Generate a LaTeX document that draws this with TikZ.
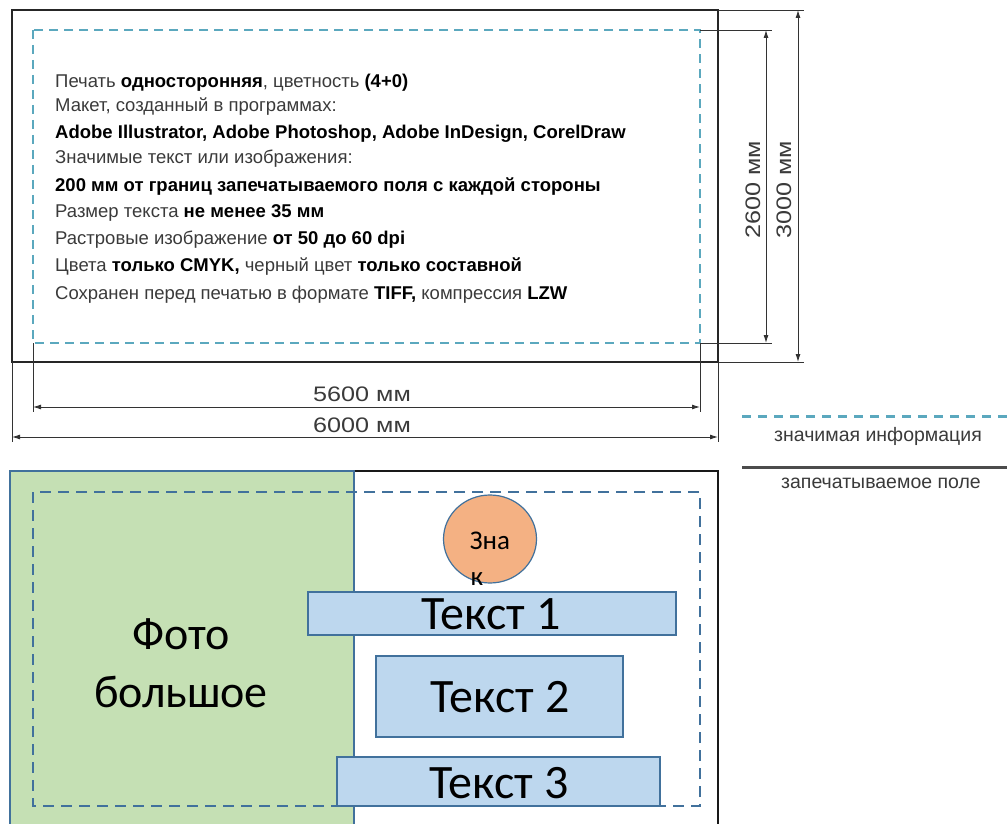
\documentclass[tikz,border=0pt]{standalone}
\usepackage{fontspec}
\setmainfont{Liberation Sans}
\newfontfamily\infof{Liberation Sans}
\newfontfamily\widef[FakeStretch=1.2]{Liberation Sans}
\newfontfamily\calib{Carlito}
\usetikzlibrary{arrows.meta,shapes.geometric}
\definecolor{cyandash}{HTML}{5BA8BE}
\definecolor{steel}{HTML}{41719C}
\definecolor{greenfill}{HTML}{C5E0B4}
\definecolor{orangefill}{HTML}{F4B183}
\definecolor{bluefill}{HTML}{BDD7EE}
\definecolor{txtgray}{HTML}{3A3A3A}
\tikzset{
  dimline/.style={draw=black!80, line width=0.9pt, {Latex[length=8pt,width=5pt]}-{Latex[length=8pt,width=5pt]}},
  extline/.style={draw=black!80, line width=0.9pt},
  infotext/.style={anchor=west, inner sep=0pt, font=\infof\fontsize{18.5}{21}\selectfont, text=txtgray},
  dimlabel/.style={inner sep=0pt, font=\widef\fontsize{21}{24}\selectfont, text=txtgray},
  legtext/.style={inner sep=0pt, font=\infof\fontsize{19.5}{22}\selectfont, text=txtgray},
  bluebox/.style={draw=steel, line width=1.2pt, fill=bluefill, inner sep=0pt},
  bigtext/.style={inner sep=0pt, font=\calib\fontsize{48}{54}\selectfont}
}
\newcommand{\bb}[1]{\textbf{\color{black}#1}}
\begin{document}
\begin{tikzpicture}[x=1pt,y=-1pt]
\useasboundingbox (0,0) rectangle (1007,824);
% ---------- top layout ----------
\coordinate (oTL) at (12,10);
\coordinate (oBR) at (718,362);
\coordinate (dTL) at (33,30);
\coordinate (dBR) at (700,343);
\draw[draw=black!85, line width=2pt] (oTL) rectangle (oBR);
\draw[draw=cyandash, line width=1.6pt, dash pattern=on 9pt off 6pt] (dTL) rectangle (dBR);
% extension lines
\coordinate (e1a) at (700,30);   \coordinate (e1b) at (772,30);
\coordinate (e2a) at (700,343);  \coordinate (e2b) at (772,343);
\coordinate (e3a) at (718,10);   \coordinate (e3b) at (804,10);
\coordinate (e4a) at (718,362);  \coordinate (e4b) at (804,362);
\draw[extline] (e1a) -- (e1b);
\draw[extline] (e2a) -- (e2b);
\draw[extline] (e3a) -- (e3b);
\draw[extline] (e4a) -- (e4b);
\coordinate (h1a) at (33,343);  \coordinate (h1b) at (33,412);
\coordinate (h2a) at (700,343); \coordinate (h2b) at (700,412);
\coordinate (h3a) at (12,362);  \coordinate (h3b) at (12,442);
\coordinate (h4a) at (718,362); \coordinate (h4b) at (718,442);
\draw[extline] (h1a) -- (h1b);
\draw[extline] (h2a) -- (h2b);
\draw[extline] (h3a) -- (h3b);
\draw[extline] (h4a) -- (h4b);
% dimension arrows
\coordinate (v1a) at (766,30);  \coordinate (v1b) at (766,343);
\coordinate (v2a) at (798,10);  \coordinate (v2b) at (798,362);
\draw[dimline] (v1a) -- (v1b);
\draw[dimline] (v2a) -- (v2b);
\coordinate (w1a) at (33,407);  \coordinate (w1b) at (700,407);
\coordinate (w2a) at (12,437);  \coordinate (w2b) at (718,437);
\draw[dimline] (w1a) -- (w1b);
\draw[dimline] (w2a) -- (w2b);
\node[dimlabel, rotate=90] (l2600) at (753,190) {2600 мм};
\node[dimlabel, rotate=90] (l3000) at (784,190) {3000 мм};
\node[dimlabel] (l5600) at (362,394) {5600 мм};
\node[dimlabel] (l6000) at (362,425) {6000 мм};
% info text
\node[infotext] (t1) at (55,83)  {Печать \bb{односторонняя}, цветность \bb{(4+0)}};
\node[infotext] (t2) at (55,107) {Макет, созданный в программах:};
\node[infotext] (t3) at (55,134) {\bb{Adobe Illustrator, Adobe Photoshop, Adobe InDesign, CorelDraw}};
\node[infotext] (t4) at (55,159) {Значимые текст или изображения:};
\node[infotext] (t5) at (55,187) {\bb{200 мм от границ запечатываемого поля с каждой стороны}};
\node[infotext] (t6) at (55,213) {Размер текста \bb{не менее 35 мм}};
\node[infotext] (t7) at (55,240) {Растровые изображение \bb{от 50 до 60 dpi}};
\node[infotext] (t8) at (55,267) {Цвета \bb{только CMYK,} черный цвет \bb{только составной}};
\node[infotext] (t9) at (55,295) {Сохранен перед печатью в формате \bb{TIFF,} компрессия \bb{LZW}};
% legend
\coordinate (lg1a) at (742,416.5); \coordinate (lg1b) at (1007,416.5);
\draw[draw=cyandash, line width=2.2pt, dash pattern=on 9pt off 7pt] (lg1a) -- (lg1b);
\node[legtext] (lgt1) at (878,436) {значимая информация};
\coordinate (lg2a) at (742,467.5); \coordinate (lg2b) at (1007,467.5);
\draw[draw=black!70, line width=2.8pt] (lg2a) -- (lg2b);
\node[legtext] (lgt2) at (881,483) {запечатываемое поле};
% ---------- bottom layout ----------
\draw[draw=black!90, line width=1.6pt] (10,471) rectangle (718,830);
\fill[greenfill] (10,471) rectangle (354,830);
\draw[draw=steel, line width=1.2pt] (10,830) -- (10,471) -- (354,471) -- (354,830);
\draw[draw=steel, line width=1.5pt, dash pattern=on 11pt off 7pt] (33,492) rectangle (700,806);
\node[bigtext, align=center, font=\calib\fontsize{46}{58}\selectfont] (foto) at (181,663) {Фото\\большое};
\node[draw=steel, line width=1.2pt, fill=orangefill, ellipse, minimum width=93pt, minimum height=88pt, inner sep=0pt] (znak) at (490,539) {};
\node[inner sep=0pt, font=\calib\fontsize{27}{32}\selectfont] (znak1) at (490,541) {Зна};
\node[inner sep=0pt, font=\calib\fontsize{27}{32}\selectfont] (znak2) at (477,579) {к};
\node[bluebox, minimum width=368pt, minimum height=43pt] (b1) at (492,613.5) {};
\node[bigtext] (b1t) at (491,614) {Текст 1};
\node[bluebox, minimum width=247pt, minimum height=81pt] (b2) at (499.5,696.5) {};
\node[bigtext] (b2t) at (500,697) {Текст 2};
\node[bluebox, minimum width=323pt, minimum height=49pt] (b3) at (498.5,781.5) {};
\node[bigtext] (b3t) at (499,783) {Текст 3};
\end{tikzpicture}
\end{document}
